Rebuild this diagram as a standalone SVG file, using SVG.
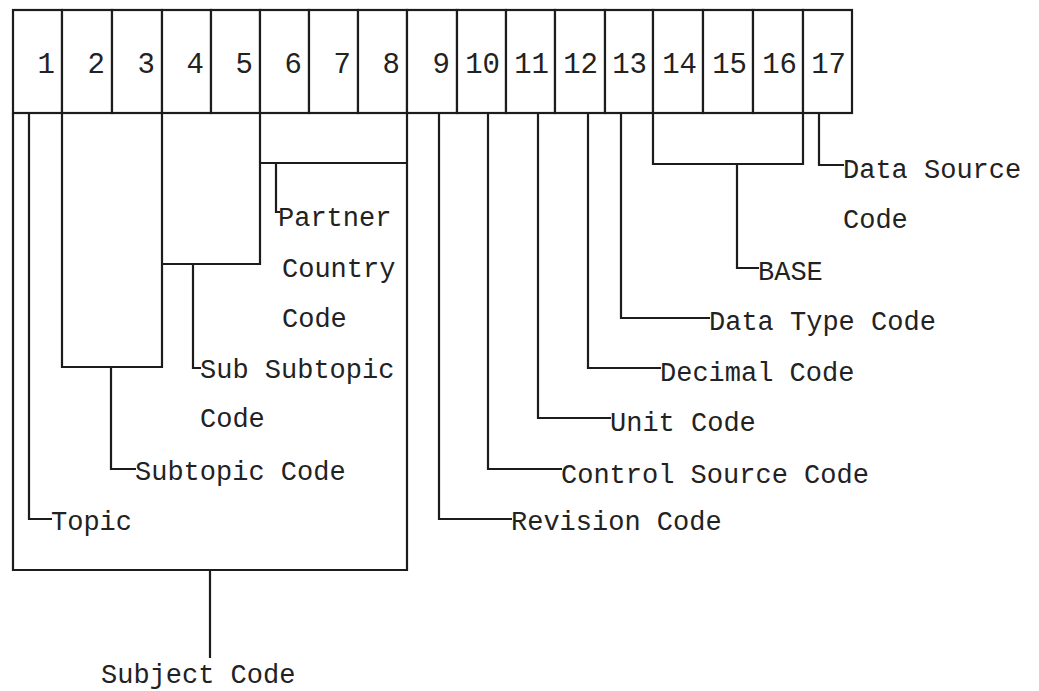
<svg xmlns="http://www.w3.org/2000/svg" width="1039" height="691" viewBox="0 0 1039 691">
<style>
.cell{fill:#fff;stroke:#1c1c1c;stroke-width:2.2}
.num{font-family:"Liberation Mono",monospace;font-size:29px;fill:#222;text-anchor:end}
.lbl{font-family:"Liberation Mono",monospace;font-size:27px;fill:#222}
.con{fill:none;stroke:#1c1c1c;stroke-width:2.2;stroke-linejoin:miter}
</style>
<rect width="1039" height="691" fill="#fff"/>
<g id="cells">
<g id="cell1"><rect class="cell" x="13" y="10" width="49" height="103"/><text class="num" x="55" y="73">1</text></g>
<g id="cell2"><rect class="cell" x="62" y="10" width="50" height="103"/><text class="num" x="105" y="73">2</text></g>
<g id="cell3"><rect class="cell" x="112" y="10" width="50" height="103"/><text class="num" x="155" y="73">3</text></g>
<g id="cell4"><rect class="cell" x="162" y="10" width="49" height="103"/><text class="num" x="204" y="73">4</text></g>
<g id="cell5"><rect class="cell" x="211" y="10" width="49" height="103"/><text class="num" x="253" y="73">5</text></g>
<g id="cell6"><rect class="cell" x="260" y="10" width="49" height="103"/><text class="num" x="302" y="73">6</text></g>
<g id="cell7"><rect class="cell" x="309" y="10" width="49" height="103"/><text class="num" x="351" y="73">7</text></g>
<g id="cell8"><rect class="cell" x="358" y="10" width="49" height="103"/><text class="num" x="400" y="73">8</text></g>
<g id="cell9"><rect class="cell" x="407" y="10" width="50" height="103"/><text class="num" x="450" y="73">9</text></g>
<g id="cell10"><rect class="cell" x="457" y="10" width="49" height="103"/><text class="num" x="500" y="73">10</text></g>
<g id="cell11"><rect class="cell" x="506" y="10" width="49" height="103"/><text class="num" x="549" y="73">11</text></g>
<g id="cell12"><rect class="cell" x="555" y="10" width="50" height="103"/><text class="num" x="598" y="73">12</text></g>
<g id="cell13"><rect class="cell" x="605" y="10" width="48" height="103"/><text class="num" x="647" y="73">13</text></g>
<g id="cell14"><rect class="cell" x="653" y="10" width="50" height="103"/><text class="num" x="697" y="73">14</text></g>
<g id="cell15"><rect class="cell" x="703" y="10" width="50" height="103"/><text class="num" x="747" y="73">15</text></g>
<g id="cell16"><rect class="cell" x="753" y="10" width="50" height="103"/><text class="num" x="797" y="73">16</text></g>
<g id="cell17"><rect class="cell" x="803" y="10" width="49" height="103"/><text class="num" x="846" y="73">17</text></g>
</g>
<g id="connectors">
<path class="con" d="M29 113 V519 H52"/>
<path class="con" d="M62 113 V367 H162 V113"/>
<path class="con" d="M111 367 V469 H136"/>
<path class="con" d="M162 264 H260 V113"/>
<path class="con" d="M193 264 V368 H201"/>
<path class="con" d="M260 163 H407"/>
<path class="con" d="M276 163 V212 H280"/>
<path class="con" d="M13 113 V570 H407 V113"/>
<path class="con" d="M210 570 V658"/>
<path class="con" d="M439 113 V519 H512"/>
<path class="con" d="M488 113 V469 H562"/>
<path class="con" d="M538 113 V418 H611"/>
<path class="con" d="M588 113 V368 H661"/>
<path class="con" d="M621 113 V318 H710"/>
<path class="con" d="M653 113 V164 H803 V113"/>
<path class="con" d="M737 164 V268 H759"/>
<path class="con" d="M819 113 V165 H844"/>
</g>
<g id="label-topic"><text class="lbl" x="51" y="530">Topic</text></g>
<g id="label-subtopic"><text class="lbl" x="135" y="480">Subtopic Code</text></g>
<g id="label-subsubtopic"><text class="lbl" x="200" y="378">Sub Subtopic</text><text class="lbl" x="200" y="427">Code</text></g>
<g id="label-partner"><text class="lbl" x="278" y="226">Partner</text><text class="lbl" x="282" y="277">Country</text><text class="lbl" x="282" y="327">Code</text></g>
<g id="label-subject"><text class="lbl" x="101" y="683">Subject Code</text></g>
<g id="label-revision"><text class="lbl" x="511" y="530">Revision Code</text></g>
<g id="label-control"><text class="lbl" x="561" y="483">Control Source Code</text></g>
<g id="label-unit"><text class="lbl" x="610" y="431">Unit Code</text></g>
<g id="label-decimal"><text class="lbl" x="660" y="381">Decimal Code</text></g>
<g id="label-datatype"><text class="lbl" x="709" y="330">Data Type Code</text></g>
<g id="label-base"><text class="lbl" x="758" y="280">BASE</text></g>
<g id="label-datasource"><text class="lbl" x="843" y="178">Data Source</text><text class="lbl" x="843" y="228">Code</text></g>
</svg>
